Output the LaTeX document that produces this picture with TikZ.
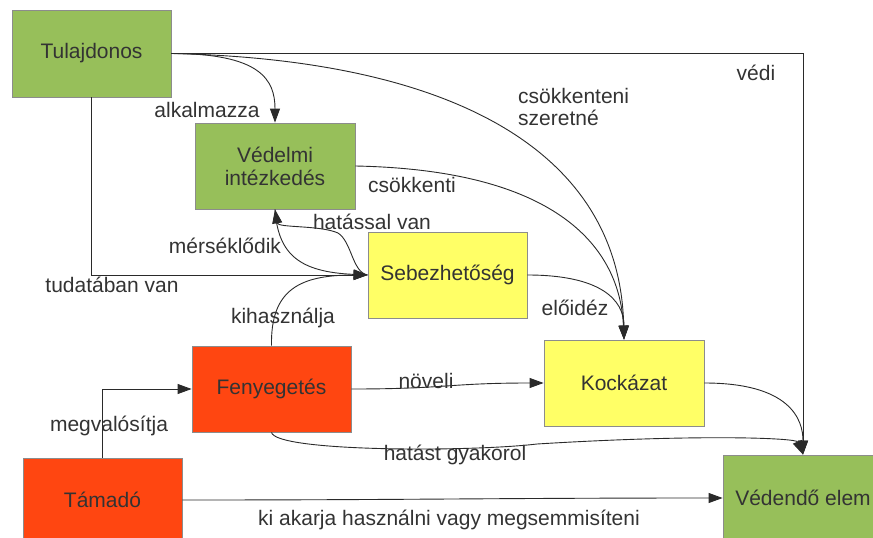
\documentclass[tikz,border=0pt]{standalone}
\usepackage{fontspec}
\setmainfont{Liberation Sans}
\usetikzlibrary{arrows.meta}
\definecolor{boxgreen}{HTML}{97BF5A}
\definecolor{boxred}{HTML}{FF4611}
\definecolor{boxyellow}{HTML}{FFFF66}
\definecolor{boxline}{HTML}{8C8C8C}
\definecolor{txt}{HTML}{333333}
\definecolor{edge}{HTML}{2A2A2A}
\tikzset{
  box/.style={draw=boxline, line width=0.8pt, minimum width=159pt, minimum height=86pt,
    inner sep=0pt, align=center, text=txt, font=\fontsize{21}{24}\selectfont},
  gbox/.style={box, fill=boxgreen},
  rbox/.style={box, fill=boxred},
  ybox/.style={box, fill=boxyellow},
  lbl/.style={text=txt, font=\fontsize{21}{24}\selectfont, inner sep=0pt},
  conn/.style={draw=edge, line width=0.9pt},
  arr/.style={conn, -{Triangle[length=14pt,width=10pt]}},
}
\begin{document}
\begin{tikzpicture}[x=1pt,y=-1pt]
\useasboundingbox (0,0) rectangle (873,538);
\clip (0,0) rectangle (873,538);
% nodes
\node[gbox, minimum height=87pt] (tul) at (91.5,53.5) {Tulajdonos};
\node[gbox, minimum width=160pt] (vin) at (275,166) {Védelmi\\[-1pt]intézkedés};
\node[ybox] (seb) at (447.5,275) {Sebezhetőség};
\node[rbox] (fen) at (271.5,389) {Fenyegetés};
\node[ybox, minimum width=160pt] (koc) at (624,383) {Kockázat};
\node[rbox, minimum height=84pt] (tam) at (102.5,500) {Támadó};
\node[gbox, minimum width=160pt] (ved) at (803,498) {Védendő elem};
\coordinate (h1) at (537,444);
% connectors
\draw[arr] (tul.east) -| (ved.north);
\draw[arr] (tul.east) .. controls +(89,0) and +(0,-43) .. (vin.north);
\draw[arr] (tul.east) .. controls +(279,6) and +(-4,-190) .. (koc.north);
\draw[arr] (tul.south) |- (seb.west);
\draw[arr] (vin.east) .. controls +(205,4) and +(-4,-90) .. (koc.north);
\draw[arr] (seb.west) .. controls (352,272) and (352,242) .. (338,233)
   .. controls (320,225) and (278,228) .. (vin.south);
\draw[arr] (vin.south) .. controls (278,255) and (300,272) .. (seb.west);
\draw[arr] (fen.north) .. controls +(-1,-56) and +(-68,0) .. (seb.west);
\draw[arr] (seb.east) .. controls +(73,0) and +(0,-40) .. (koc.north);
\draw[arr] (fen.east) .. controls +(95,0) and +(-95,0) .. (koc.west);
\draw[arr] (koc.east) .. controls +(86,0) and +(0,-35) .. (ved.north);
\draw[arr] (fen.south) .. controls (276,452) and (470,452) .. (h1)
   .. controls (700,434) and (796,438) .. (ved.north);
\draw[arr] (tam.north) |- (fen.west);
\draw[arr] (tam.east) .. controls +(220,0) and +(-220,0) .. (ved.west);
% labels
\node[lbl] (l1) at (207,110) {alkalmazza};
\node[lbl, anchor=west] (l2) at (518,96) {csökkenteni};
\node[lbl, anchor=west] (l3) at (518,118) {szeretné};
\node[lbl] (l4) at (756,73) {védi};
\node[lbl] (l5) at (412,185) {csökkenti};
\node[lbl] (l6) at (372,222) {hatással van};
\node[lbl] (l7) at (225,246) {mérséklődik};
\node[lbl] (l8) at (112,285) {tudatában van};
\node[lbl] (l9) at (283,318) {kihasználja};
\node[lbl] (l10) at (575,308) {előidéz};
\node[lbl] (l11) at (426,381) {növeli};
\node[lbl] (l12) at (109,426) {megvalósítja};
\node[lbl] (l13) at (455,455) {hatást gyakorol};
\node[lbl] (l14) at (449,520) {ki akarja használni vagy megsemmisíteni};
\end{tikzpicture}
\end{document}
